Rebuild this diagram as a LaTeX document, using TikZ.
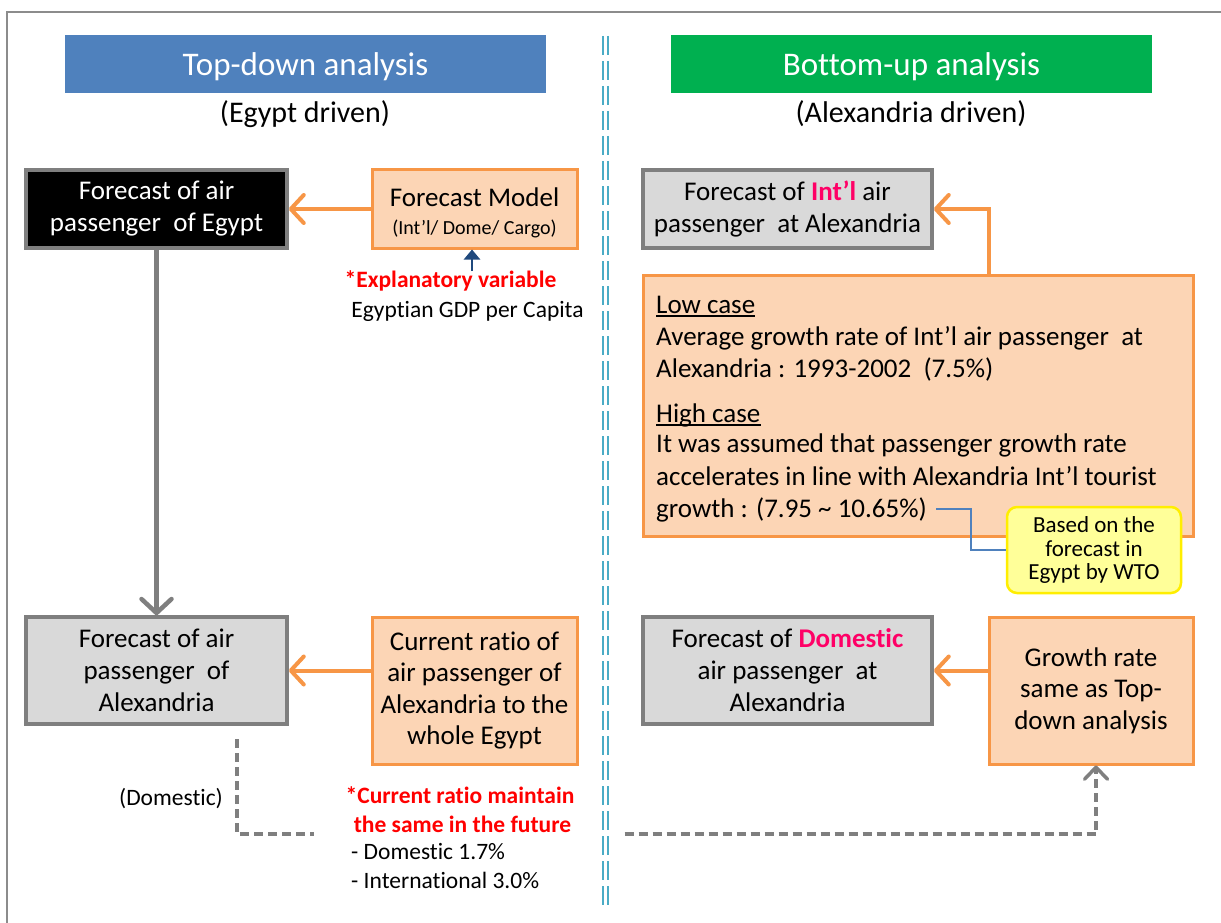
\documentclass[tikz,border=0pt]{standalone}
\usepackage{fontspec}
\setmainfont{Carlito}[Ligatures={TeX,NoCommon}]
\usetikzlibrary{arrows.meta,calc}
\definecolor{hblue}{HTML}{4F81BD}
\definecolor{hgreen}{HTML}{00B050}
\definecolor{orng}{HTML}{F79646}
\definecolor{peach}{HTML}{FCD5B5}
\definecolor{gbord}{HTML}{7F7F7F}
\definecolor{gfill}{HTML}{D9D9D9}
\definecolor{pinkred}{HTML}{FF0066}
\definecolor{darkblue}{HTML}{1F497D}
\definecolor{divblue}{HTML}{4BACC6}
\definecolor{cyel}{HTML}{FFFF99}
\definecolor{cyelb}{HTML}{FFEE00}
\definecolor{framegray}{HTML}{8C8C8C}
\newcommand\myfs[2]{\fontsize{#1}{#2}\selectfont}
\begin{document}
\begin{tikzpicture}[x=1pt,y=-1pt,
  hdrbox/.style={minimum width=481pt,minimum height=58pt,inner sep=0pt,text=white,
    font=\myfs{33}{40},text height=23pt,text depth=0pt},
  subtxt/.style={anchor=base,inner sep=0pt,font=\myfs{30}{36}},
  kbox/.style={fill=black,draw=gbord,line width=3.5pt,text=white,align=center,
    font=\myfs{27}{32},inner sep=0pt},
  gbox/.style={fill=gfill,draw=gbord,line width=3.5pt,align=center,
    font=\myfs{27}{32},inner sep=0pt},
  obox/.style={fill=peach,draw=orng,line width=3pt,align=center,
    font=\myfs{27}{31.5},inner sep=0pt},
  bodytxt/.style={anchor=base west,inner sep=0pt,font=\myfs{27}{32}},
  smalltxt/.style={inner sep=0pt,font=\myfs{23.5}{29}},
  redtxt/.style={inner sep=0pt,font=\myfs{23.5}{29}\bfseries,text=red},
  callout/.style={fill=cyel,draw=cyelb,line width=2.5pt,rounded corners=10pt,
    align=center,font=\myfs{23}{23.5},inner sep=0pt,minimum width=174pt,minimum height=86pt},
  oarrow/.style={draw=orng,line width=4pt,-{Straight Barb[length=13pt,width=28pt,round]}},
  garrow/.style={draw=gbord,line width=4.5pt,-{Straight Barb[length=14pt,width=30pt,round]}},
  barrow/.style={draw=darkblue,line width=2.5pt,-{Triangle[length=10pt,width=16pt]}},
  dline/.style={draw=gbord,line width=3.5pt,dash pattern=on 9pt off 5pt},
  cline/.style={draw=hblue,line width=1.3pt},
  divline/.style={draw=divblue,line width=2pt,dash pattern=on 19pt off 6pt},
]
\useasboundingbox (0,0) rectangle (1221,923);
\fill[white] (0,0) rectangle (1221,923);
% frame
\draw[draw=framegray,line width=2.5pt] (7,925) -- (7,12) -- (1225,12);
% headers
\node[hdrbox,fill=hblue] (tdh) at (305.5,64) {Top-down analysis};
\node[hdrbox,fill=hgreen] (buh) at (911.5,64) {Bottom-up analysis};
\node[subtxt] (tds) at (305,123) {(Egypt driven)};
\node[subtxt] (bus) at (911,123) {(Alexandria driven)};
% divider
\draw[divline] (603,36) -- (603,908);
\draw[divline] (607.5,36) -- (607.5,908);
% left column
\node[kbox,minimum width=261pt,minimum height=78pt] (egy) at (156.5,209)
  {Forecast of air\\passenger\ \ of Egypt};
\node[obox,minimum width=205pt,minimum height=78pt] (fm) at (474.5,209) {};
\node[anchor=base,inner sep=0pt,font=\myfs{27}{32}] (fmt1) at (474.5,206) {Forecast Model};
\node[anchor=base,inner sep=0pt,font=\myfs{20}{24}] (fmt2) at (474.5,234) {(Int’l/ Dome/ Cargo)};
\node[redtxt,anchor=base,inner sep=0pt] (expl) at (450.5,287) {*Explanatory variable};
\node[smalltxt,anchor=base] (gdp) at (467.5,317) {Egyptian GDP per Capita};
\coordinate (bst) at (472,271);
\node[gbox,minimum width=261pt,minimum height=107pt] (alx) at (156.5,670.5)
  {Forecast of air\\passenger\ \ of\\Alexandria};
\node[obox,minimum width=205pt,minimum height=147pt] (cr) at (474.5,690.5)
  {Current ratio of\\air passenger of\\Alexandria to the\\whole Egypt};
\node[smalltxt,anchor=base] (domlbl) at (171,805) {(Domestic)};
\node[redtxt,anchor=base] (crm1) at (460,803) {*Current ratio maintain};
\node[redtxt,anchor=base] (crm2) at (462.5,832) {the same in the future};
\node[smalltxt,anchor=base west] (pct1) at (351,859) {- Domestic 1.7\%};
\node[smalltxt,anchor=base west] (pct2) at (351,888) {- International 3.0\%};
% right column
\node[gbox,minimum width=289pt,minimum height=78pt] (intl) at (787.5,209)
  {Forecast of {\bfseries\color{pinkred}Int’l} air\\passenger\ \ at Alexandria};
\node[obox,minimum width=550pt,minimum height=261pt] (lc) at (918,405.5) {};
\node[bodytxt] (lc1) at (656,313) {Low case};
\node[bodytxt] (lc2) at (656,345) {Average growth rate of Int’l air passenger\ \ at};
\node[bodytxt] (lc3) at (656,377) {Alexandria : 1993-2002\ \ (7.5\%)};
\node[bodytxt] (lc4) at (656,422) {High case};
\node[bodytxt] (lc5) at (656,452) {It was assumed that passenger growth rate};
\node[bodytxt] (lc6) at (656,485) {accelerates in line with Alexandria Int’l tourist};
\node[bodytxt] (lc7) at (656,517) {growth : (7.95 \textasciitilde{} 10.65\%)};
\draw[line width=1.3pt] ([yshift=-3pt]lc1.base west) -- ([yshift=-3pt]lc1.base east);
\draw[line width=1.3pt] ([yshift=-3pt]lc4.base west) -- ([yshift=-3pt]lc4.base east);
\node[callout] (wto) at (1094,550) {Based on the\\forecast in\\Egypt by WTO};
\node[gbox,minimum width=289pt,minimum height=107pt] (dom) at (787.5,670.5)
  {Forecast of {\bfseries\color{pinkred}Domestic}\\air passenger\ \ at\\Alexandria};
\node[obox,minimum width=204pt,minimum height=147pt] (gr) at (1091,690.5)
  {Growth rate\\same as Top-\\down analysis};
% connectors
\draw[oarrow] (fm.west) -- (egy.east);
\draw[barrow] (bst) -- (bst |- fm.south);
\draw[garrow] (egy.south) -- (alx.north);
\draw[oarrow] (cr.west |- alx.east) -- (alx.east);
\draw[oarrow] ([xshift=71pt]lc.north) |- (intl.east);
\draw[oarrow] (gr.west |- dom.east) -- (dom.east);
\coordinate (cst) at (936,509);
\draw[cline] (cst) -- ++(35,0) |- (wto.west);
\coordinate (dst) at (237,739);
\coordinate (dgl) at (314,834);
\coordinate (dgr) at (624.5,834);
\draw[dline] (dst) |- (dgl);
\draw[dline,-{Straight Barb[length=12pt,width=23pt,round]}] (dgr) -| ([xshift=5pt]gr.south);
\end{tikzpicture}
\end{document}
